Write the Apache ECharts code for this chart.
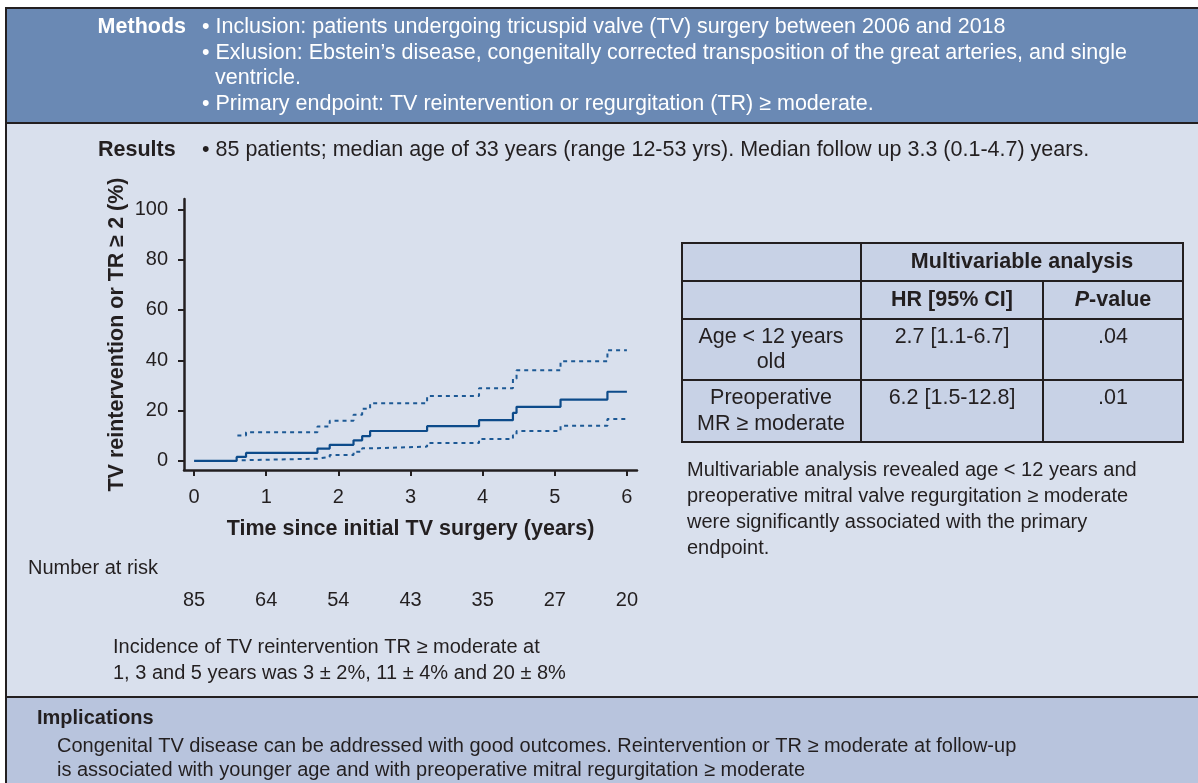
<!DOCTYPE html>
<html>
<head>
<meta charset="utf-8">
<script src="https://cdn.jsdelivr.net/npm/echarts@6/dist/echarts.min.js"></script>
<style>
  body { margin: 0; background: #ffffff; }
  #chart { width: 1198px; height: 783px; }
</style>
</head>
<body>
<div id="chart"></div>
<script>
// cumulative incidence (%) - step points [years, value]
var estTimes = [0, 0.59, 0.72, 1.71, 1.88, 2.21, 2.33, 2.44, 3.23, 3.95, 4.42, 4.47, 5.08, 5.73, 6.0]
var estValues = [0, 1.6, 3.2, 4.9, 6.4, 8.2, 9.9, 11.9, 13.8, 16.2, 19.1, 21.5, 24.4, 27.5, 27.5]
var upperTimes = [0.6, 0.72, 1.71, 1.88, 2.21, 2.33, 2.44, 3.23, 3.95, 4.42, 4.47, 5.08, 5.73, 6.0]
var upperValues = [10.1, 11.4, 13.7, 16.0, 18.4, 20.7, 22.9, 25.8, 28.9, 32.7, 36.0, 39.6, 44.0, 44.0]
var lowerTimes = [0.66, 0.72, 1.71, 1.88, 2.21, 2.33, 2.44, 3.23, 3.95, 4.42, 4.47, 5.08, 5.73, 6.0]
var lowerValues = [0.3, 0.9, 1.6, 2.4, 3.7, 5.0, 5.7, 7.1, 8.7, 10.2, 11.9, 14.0, 16.7, 16.7]

var xTicks = [0, 1, 2, 3, 4, 5, 6]
var yTicks = [0, 20, 40, 60, 80, 100]
var atRisk = [85, 64, 54, 43, 35, 27, 20]

var font = '"Liberation Sans", Arial, sans-serif'
var ink = '#231f20'
var big = 21.5

function pairs(xs, ys) {
  return xs.map(function (x, i) { return [x, ys[i]] })
}

// text helper for graphic layer
function txt(x, y, s, opt) {
  opt = opt || {}
  return {
    type: 'text',
    z: 10,
    style: {
      x: x, y: y, text: s,
      fill: opt.fill || ink,
      font: (opt.weight || 'normal') + ' ' + (opt.size || 20) + 'px ' + font,
      textAlign: opt.align || 'left',
      textVerticalAlign: 'middle',
      rich: opt.rich
    }
  }
}

function box(x, y, w, h, fill, z) {
  return {
    type: 'rect', z: z == null ? -10 : z,
    shape: { x: x, y: y, width: w, height: h },
    style: { fill: fill, stroke: ink, lineWidth: 2 }
  }
}

// table (Multivariable analysis)
var colX = [682, 861, 1043, 1183]
var rowY = [243, 281, 319, 380, 442]
var tableCells = []
for (var r = 0; r < 4; r++) {
  for (var c = 0; c < 3; c++) {
    if (r === 0 && c === 2) continue
    var w = (r === 0 && c === 1) ? colX[3] - colX[1] : colX[c + 1] - colX[c]
    tableCells.push(box(colX[c], rowY[r], w, rowY[r + 1] - rowY[r], '#c8d2e6', 1))
  }
}

var white = '#ffffff'
var graphics = [
  box(6, 8, 1200, 115, '#6a89b4'),
  box(6, 123, 1200, 574, '#d9e0ed'),
  box(6, 697, 1200, 100, '#b8c4dd'),

  // Methods
  txt(186, 27, 'Methods', { weight: 'bold', align: 'right', fill: white, size: big }),
  txt(202, 27, '\u2022 Inclusion: patients undergoing tricuspid valve (TV) surgery between 2006 and 2018', { fill: white, size: big }),
  txt(202, 53, '\u2022 Exlusion: Ebstein\u2019s disease, congenitally corrected transposition of the great arteries, and single', { fill: white, size: big }),
  txt(215, 78, 'ventricle.', { fill: white, size: big }),
  txt(202, 104, '\u2022 Primary endpoint: TV reintervention or regurgitation (TR) \u2265 moderate.', { fill: white, size: big }),

  // Results
  txt(98, 150, 'Results', { weight: 'bold', size: big }),
  txt(202, 150, '\u2022 85 patients; median age of 33 years (range 12-53 yrs). Median follow up 3.3 (0.1-4.7) years.', { size: big }),

  // table texts
  txt(1022, 262, 'Multivariable analysis', { weight: 'bold', align: 'center', size: big }),
  txt(952, 300, 'HR [95% CI]', { weight: 'bold', align: 'center', size: big }),
  txt(1113, 300, '{i|P}-value', { weight: 'bold', align: 'center', size: big,
    rich: { i: { fontStyle: 'italic', fontWeight: 'bold', fontSize: big, fontFamily: font, fill: ink } } }),
  txt(771, 337, 'Age < 12 years', { align: 'center', size: big }),
  txt(771, 362, 'old', { align: 'center', size: big }),
  txt(952, 337, '2.7 [1.1-6.7]', { align: 'center', size: big }),
  txt(1113, 337, '.04', { align: 'center', size: big }),
  txt(771, 398, 'Preoperative', { align: 'center', size: big }),
  txt(771, 424, 'MR \u2265 moderate', { align: 'center', size: big }),
  txt(952, 398, '6.2 [1.5-12.8]', { align: 'center', size: big }),
  txt(1113, 398, '.01', { align: 'center', size: big }),

  txt(687, 470, 'Multivariable analysis revealed age < 12 years and'),
  txt(687, 496, 'preoperative mitral valve regurgitation \u2265 moderate'),
  txt(687, 522, 'were significantly associated with the primary'),
  txt(687, 548, 'endpoint.'),

  txt(28, 568, 'Number at risk'),
  txt(113, 647, 'Incidence of TV reintervention TR \u2265 moderate at'),
  txt(113, 673, '1, 3 and 5 years was 3 \u00b1 2%, 11 \u00b1 4% and 20 \u00b1 8%'),

  // Implications
  txt(37, 718, 'Implications', { weight: 'bold' }),
  txt(57, 746, 'Congenital TV disease can be addressed with good outcomes. Reintervention or TR \u2265 moderate at follow-up'),
  txt(57, 770, 'is associated with younger age and with preoperative mitral regurgitation \u2265 moderate')
].concat(tableCells)

var chart = echarts.init(document.getElementById('chart'))
chart.setOption({
  animation: false,
  textStyle: { fontFamily: font, color: ink },
  graphic: graphics,
  grid: { left: 184, right: 561, top: 199, bottom: 313 },
  xAxis: [
    {
      type: 'value',
      min: -0.14, max: 6.14,
      name: 'Time since initial TV surgery (years)',
      nameLocation: 'middle',
      nameGap: 48,
      nameTextStyle: { fontSize: big, fontWeight: 'bold', color: ink, fontFamily: font },
      axisLine: { show: true, onZero: false, lineStyle: { color: ink, width: 2.5 } },
      axisTick: { show: true, customValues: xTicks, length: 6, lineStyle: { color: ink, width: 2 } },
      axisLabel: { customValues: xTicks, fontSize: 20, color: ink, margin: 17, fontFamily: font },
      splitLine: { show: false }
    },
    {
      // number at risk row, same time scale
      type: 'value',
      position: 'bottom',
      offset: 120,
      min: -0.14, max: 6.14,
      axisLine: { show: false },
      axisTick: { show: false },
      axisLabel: {
        customValues: xTicks, fontSize: 20, color: ink, margin: 0, fontFamily: font,
        formatter: function (v) { return String(atRisk[Math.round(v)]) }
      },
      splitLine: { show: false }
    }
  ],
  yAxis: {
    type: 'value',
    min: -3.6, max: 104.1,
    name: 'TV reintervention or TR \u2265 2 (%)',
    nameLocation: 'middle',
    nameGap: 56,
    nameTextStyle: { fontSize: big, fontWeight: 'bold', color: ink, fontFamily: font },
    axisLine: { show: true, onZero: false, lineStyle: { color: ink, width: 2.5 } },
    axisTick: { show: true, customValues: yTicks, length: 6, lineStyle: { color: ink, width: 2 } },
    axisLabel: { customValues: yTicks, fontSize: 20, color: ink, margin: 16, fontFamily: font },
    splitLine: { show: false }
  },
  series: [
    {
      name: 'estimate', type: 'line', step: 'end', symbol: 'none',
      data: pairs(estTimes, estValues),
      lineStyle: { color: '#0d4b8a', width: 2.2 }
    },
    {
      name: 'upper', type: 'line', step: 'end', symbol: 'none',
      data: pairs(upperTimes, upperValues),
      lineStyle: { color: '#1d5995', width: 2, type: [4, 4] }
    },
    {
      name: 'lower', type: 'line', step: 'end', symbol: 'none',
      data: pairs(lowerTimes, lowerValues),
      lineStyle: { color: '#1d5995', width: 2, type: [4, 4] }
    }
  ]
})
</script>
</body>
</html>
